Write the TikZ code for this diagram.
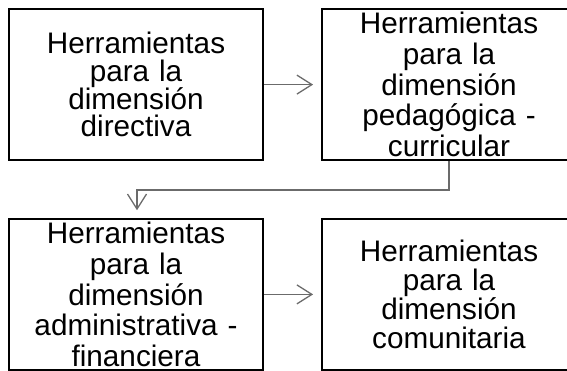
\documentclass[tikz,border=0pt]{standalone}
\usepackage{fontspec}
\setmainfont{Liberation Sans}
\usetikzlibrary{arrows.meta}
\tikzset{
  box/.style={draw=black, line width=1.8pt, minimum width=254pt, minimum height=151.5pt,
    inner sep=0pt, text width=250pt, align=center},
  conn/.style={draw=black!58, line width=1.3pt,
    -{Straight Barb[length=15pt,width=19pt]}},
}
\newcommand{\boxfont}[1]{\fontsize{29.7}{#1}\selectfont\lineskiplimit=-50pt\relax}
\begin{document}
\begin{tikzpicture}[x=1pt,y=-1pt]
\useasboundingbox (0,0) rectangle (567,371);
\node[box, font=\boxfont{27.7}] (A) at (136,84.6)
  {Herramientas\\para la\\dimensión\\directiva};
\node[box, font=\boxfont{30.7}] (B) at (449,84.6)
  {Herramientas\\para la\\dimensión\\pedagógica -\\curricular};
\node[box, font=\boxfont{30.6}] (C) at (136,294.4)
  {Herramientas\\para la\\dimensión\\administrativa -\\financiera};
\node[box, font=\boxfont{28.9}] (D) at (449,294.4)
  {Herramientas\\para la\\dimensión\\comunitaria};
\coordinate (m) at (137,190);
\draw[conn, shorten >=8pt] (A.east) -- (B.west);
\draw[conn, shorten >=8pt] (C.east) -- (D.west);
\draw[conn, shorten >=7.5pt] (B.south) |- (m) -- (m |- C.north);
\end{tikzpicture}
\end{document}
